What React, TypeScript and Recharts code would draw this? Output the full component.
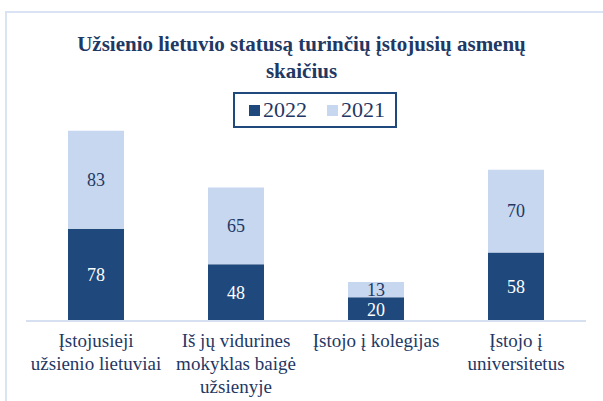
import { BarChart, Bar, XAxis, YAxis, Legend, LabelList } from "recharts"

const categories = [
  "Įstojusieji|užsienio lietuviai",
  "Iš jų vidurines|mokyklas baigė|užsienyje",
  "Įstojo į kolegijas",
  "Įstojo į|universitetus",
]
const values2022 = [78, 48, 20, 58]
const values2021 = [83, 65, 13, 70]
const seriesNames = ["2022", "2021"]

const data = categories.map((name, i) => ({
  name,
  y2022: values2022[i],
  y2021: values2021[i],
}))

const NAVY = "#1F497D"
const LIGHT = "#C6D7EF"
const TEXT = "#1F3864"
const FONT = "Liberation Serif, Times New Roman, serif"

function CategoryTick({ x, y, payload }: any) {
  const lines = String(payload.value).split("|")
  return (
    <text x={x} y={y} textAnchor="middle" fill={TEXT} style={{ fontFamily: FONT }} fontSize={19}>
      {lines.map((l, i) => (
        <tspan key={i} x={x} dy={i === 0 ? 18 : 23}>
          {l}
        </tspan>
      ))}
    </text>
  )
}

function LegendBox({ payload }: any) {
  const items = seriesNames.map((n) => (payload || []).find((p: any) => p.value === n)).filter(Boolean)
  return (
    <div
      style={{
        display: "inline-flex",
        alignItems: "center",
        gap: 20,
        border: `2px solid ${NAVY}`,
        padding: "3px 10px 3px 14px",
        fontFamily: FONT,
        fontSize: 22,
        color: TEXT,
        background: "#fff",
      }}
    >
      {items.map((p: any) => (
        <span key={p.value} style={{ display: "inline-flex", alignItems: "center", gap: 3 }}>
          <span style={{ width: 11, height: 11, background: p.color, display: "inline-block" }} />
          {p.value}
        </span>
      ))}
    </div>
  )
}

export default function App() {
  return (
    <div style={{ position: "relative", width: 603, height: 401, overflow: "hidden", background: "#fff", fontFamily: FONT }}>
      <style>{`body{margin:0}`}</style>
      <div
        style={{
          position: "absolute",
          left: 5,
          top: 11,
          width: 700,
          height: 500,
          border: "2px solid #DAE3F3",
          boxSizing: "border-box",
        }}
      />
      <div
        style={{
          position: "absolute",
          top: 31,
          left: 0,
          width: 603,
          textAlign: "center",
          fontFamily: FONT,
          fontWeight: "bold",
          fontSize: 21,
          lineHeight: "27px",
          color: TEXT,
        }}
      >
        Užsienio lietuvio statusą turinčių įstojusių asmenų
        <br />
        skaičius
      </div>
      <div style={{ position: "absolute", left: 0, top: 0 }}>
        <BarChart
          width={603}
          height={401}
          data={data}
          margin={{ top: 84, right: 17, bottom: 0, left: 26 }}
          barCategoryGap={0}
        >
          <XAxis
            dataKey="name"
            height={80}
            tickLine={false}
            axisLine={{ stroke: "#D6E0F0", strokeWidth: 2 }}
            tick={<CategoryTick />}
            interval={0}
          />
          <YAxis hide domain={[0, 170]} width={0} />
          <Legend
            verticalAlign="top"
            content={<LegendBox />}
            wrapperStyle={{ position: "absolute", top: 92, left: 233, width: "auto" }}
          />
          <Bar dataKey="y2022" name="2022" stackId="a" fill={NAVY} barSize={56} isAnimationActive={false}>
            <LabelList dataKey="y2022" position="center" fill="#FFFFFF" style={{ fontFamily: FONT }} fontSize={18} />
          </Bar>
          <Bar dataKey="y2021" name="2021" stackId="a" fill={LIGHT} barSize={56} isAnimationActive={false}>
            <LabelList dataKey="y2021" position="center" fill={TEXT} style={{ fontFamily: FONT }} fontSize={18} />
          </Bar>
        </BarChart>
      </div>
    </div>
  )
}
